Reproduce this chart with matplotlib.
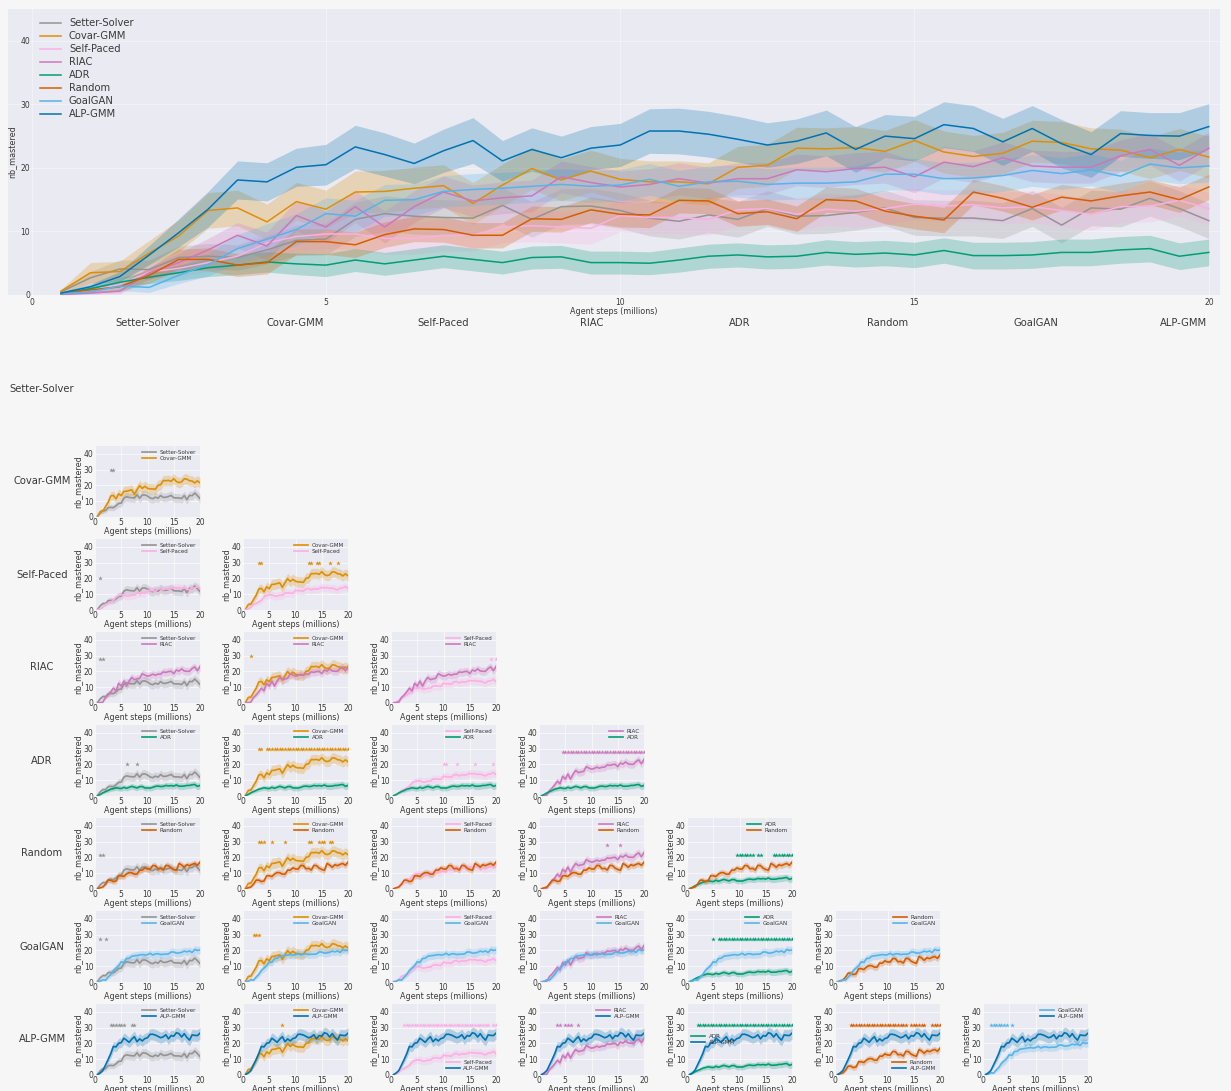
import numpy as np
import matplotlib.pyplot as plt

W, H = 1231, 1091

# x positions of the evaluations (millions of agent steps)
steps = np.arange(0.5, 20.01, 0.5)

names = ['Setter-Solver', 'Covar-GMM', 'Self-Paced', 'RIAC', 'ADR', 'Random', 'GoalGAN', 'ALP-GMM']
colors = ['#949494', '#de8f05', '#fbafe4', '#cc78bc', '#029e73', '#d55e00', '#56b4e9', '#0173b2']

# mean number of mastered tasks
setter_solver = [0.5, 2.7, 4.1, 4.0, 5.9, 6.1, 5.9, 7.1, 8.6, 8.8, 11.9, 12.8, 12.4, 12.2, 12.1, 14.1, 11.9, 13.9, 14.0, 13.3,
                 12.1, 11.6, 12.6, 11.9, 13.6, 12.4, 12.5, 13.0, 13.7, 12.2, 12.1, 12.1, 11.7, 13.6, 11.0, 13.7, 13.5, 15.2, 13.6, 11.7]
covar_gmm = [0.6, 3.5, 3.7, 6.6, 9.3, 13.3, 13.7, 11.5, 14.7, 13.5, 16.2, 16.3, 16.8, 17.2, 14.4, 17.3, 19.9, 18.1, 19.5, 18.2,
             17.8, 17.8, 17.5, 20.1, 20.4, 23.1, 23.0, 23.2, 22.6, 24.3, 22.5, 21.8, 22.3, 24.2, 24.0, 23.0, 22.8, 21.6, 22.9, 21.7]
self_paced = [0.2, 0.7, 1.7, 3.6, 4.2, 5.1, 6.1, 8.2, 9.2, 9.6, 9.6, 8.9, 8.9, 9.4, 9.4, 10.7, 10.9, 10.7, 10.5, 12.5,
              12.2, 12.2, 11.9, 13.4, 13.6, 12.7, 13.5, 13.2, 13.6, 14.3, 14.0, 14.2, 13.7, 13.9, 13.3, 12.7, 13.9, 14.0, 14.9, 13.6]
riac = [0.1, 0.3, 0.6, 3.5, 5.1, 7.1, 9.4, 7.7, 12.5, 10.7, 13.9, 10.7, 13.9, 16.2, 14.8, 15.3, 15.6, 18.6, 17.7, 17.0,
        17.4, 18.3, 17.6, 18.3, 18.3, 19.7, 19.4, 19.9, 20.1, 18.6, 20.9, 20.2, 21.6, 20.3, 20.1, 20.1, 21.9, 22.9, 20.4, 23.1]
adr = [0.2, 1.0, 2.0, 2.8, 3.5, 4.3, 4.7, 5.2, 4.9, 4.7, 5.5, 4.9, 5.5, 6.1, 5.6, 5.1, 5.9, 6.0, 5.1, 5.1,
       5.0, 5.5, 6.1, 6.3, 6.0, 6.1, 6.7, 6.4, 6.6, 6.3, 7.0, 6.2, 6.2, 6.3, 6.7, 6.7, 7.1, 7.3, 6.1, 6.7]
random_ = [0.2, 0.8, 1.3, 3.1, 5.6, 5.6, 4.7, 5.1, 8.4, 8.4, 7.9, 9.5, 10.4, 10.3, 9.4, 9.4, 12.0, 11.9, 13.4, 12.7,
           12.6, 14.9, 14.8, 12.8, 13.1, 12.0, 15.0, 14.8, 13.2, 12.4, 11.8, 16.2, 15.2, 13.8, 15.4, 14.8, 15.6, 16.2, 15.0, 17.0]
goalgan = [0.2, 0.5, 1.4, 1.2, 3.1, 4.8, 7.3, 8.8, 10.3, 12.8, 12.4, 14.9, 15.0, 16.3, 16.6, 16.8, 17.1, 17.4, 17.1, 17.3,
           18.2, 17.1, 17.8, 17.9, 17.4, 17.6, 17.6, 17.8, 19.0, 19.0, 18.3, 18.4, 18.8, 19.6, 19.1, 19.7, 18.7, 20.6, 20.0, 20.3]
alp_gmm = [0.3, 1.3, 2.9, 6.3, 9.8, 13.5, 18.1, 17.8, 20.1, 20.5, 23.3, 22.1, 20.7, 22.7, 24.3, 21.1, 22.9, 21.6, 23.1, 23.6,
           25.8, 25.8, 25.3, 24.5, 23.6, 24.2, 25.5, 22.9, 25.0, 24.6, 26.8, 26.2, 24.1, 26.2, 23.8, 22.1, 25.4, 25.1, 25.0, 26.5]

# half width of the shaded bands
setter_solver_sd = [0.3, 1.0, 1.4, 1.5, 1.8, 2.0, 2.0, 2.2, 2.4, 2.5, 2.7, 2.8, 2.8, 2.8, 2.8, 2.8, 2.8, 2.8, 2.8, 2.8,
                    2.8, 2.8, 2.8, 2.8, 2.8, 2.8, 2.8, 2.8, 2.8, 2.8, 2.8, 2.8, 2.8, 2.8, 2.8, 2.8, 2.8, 2.8, 2.8, 2.8]
covar_gmm_sd = [0.3, 1.6, 1.6, 2.0, 2.5, 2.8, 2.8, 2.8, 3.0, 3.0, 3.3, 3.3, 3.3, 3.3, 3.3, 3.3, 3.3, 3.3, 3.3, 3.3,
                3.3, 3.3, 3.3, 3.3, 3.3, 3.3, 3.3, 3.3, 3.3, 3.3, 3.3, 3.3, 3.3, 3.3, 3.3, 3.3, 3.3, 3.3, 3.3, 3.3]
self_paced_sd = [0.1, 0.3, 0.6, 1.0, 1.3, 1.5, 1.7, 2.0, 2.2, 2.3, 2.4, 2.5, 2.5, 2.5, 2.5, 2.5, 2.5, 2.5, 2.5, 2.5,
                 2.5, 2.5, 2.5, 2.5, 2.5, 2.5, 2.5, 2.5, 2.5, 2.5, 2.5, 2.5, 2.5, 2.5, 2.5, 2.5, 2.5, 2.5, 2.5, 2.5]
riac_sd = [0.1, 0.2, 0.4, 1.0, 1.5, 1.8, 2.0, 2.2, 2.4, 2.5, 2.5, 2.5, 2.5, 2.5, 2.5, 2.5, 2.5, 2.5, 2.5, 2.5,
           2.5, 2.5, 2.5, 2.5, 2.5, 2.5, 2.5, 2.5, 2.5, 2.5, 2.5, 2.5, 2.5, 2.5, 2.5, 2.5, 2.5, 2.5, 2.5, 2.5]
adr_sd = [0.1, 0.4, 0.7, 1.0, 1.2, 1.4, 1.5, 1.6, 1.7, 1.8, 1.8, 1.8, 1.8, 1.8, 1.8, 1.8, 1.8, 1.8, 1.8, 1.8,
          1.8, 1.9, 1.9, 1.9, 1.9, 1.9, 2.0, 2.0, 2.0, 2.0, 2.0, 2.1, 2.1, 2.1, 2.1, 2.1, 2.1, 2.1, 2.1, 2.1]
random_sd = [0.1, 0.4, 0.7, 1.2, 1.6, 1.8, 1.8, 1.8, 2.0, 2.0, 2.0, 2.0, 2.0, 2.0, 2.0, 2.0, 2.0, 2.0, 2.0, 2.0,
             2.0, 2.0, 2.0, 2.0, 2.0, 2.0, 2.0, 2.0, 2.0, 2.0, 2.0, 2.0, 2.0, 2.0, 2.0, 2.0, 2.0, 2.0, 2.0, 2.0]
goalgan_sd = [0.1, 0.3, 0.7, 0.8, 1.3, 1.8, 2.2, 2.4, 2.5, 2.5, 2.5, 2.5, 2.5, 2.5, 2.5, 2.5, 2.5, 2.5, 2.5, 2.5,
              2.5, 2.5, 2.5, 2.5, 2.5, 2.5, 2.5, 2.5, 2.5, 2.5, 2.5, 2.5, 2.5, 2.5, 2.5, 2.5, 2.5, 2.5, 2.5, 2.5]
alp_gmm_sd = [0.2, 0.4, 0.8, 1.5, 2.2, 2.8, 3.0, 3.0, 3.0, 3.2, 3.4, 3.4, 3.2, 3.4, 3.6, 3.2, 3.4, 3.4, 3.4, 3.4,
              3.5, 3.6, 3.6, 3.6, 3.5, 3.5, 3.6, 3.6, 3.4, 3.5, 3.6, 3.6, 3.7, 3.6, 3.8, 3.6, 3.6, 3.6, 3.7, 3.6]

means = [setter_solver, covar_gmm, self_paced, riac, adr, random_, goalgan, alp_gmm]
spreads = [setter_solver_sd, covar_gmm_sd, self_paced_sd, riac_sd, adr_sd, random_sd, goalgan_sd, alp_gmm_sd]


def span(a, b):
    return list(np.arange(a, b + 0.01, 0.5))


# significance stars: (row algo, column algo) -> (y level, x positions)
stars = {
    ('Covar-GMM', 'Setter-Solver'): (30, [3.0, 3.5]),
    ('Self-Paced', 'Setter-Solver'): (20, [1.0]),
    ('Self-Paced', 'Covar-GMM'): (30, [3.0, 3.5, 12.5, 13.0, 14.0, 14.5, 16.5, 18.0]),
    ('RIAC', 'Setter-Solver'): (28, [1.0, 1.5]),
    ('RIAC', 'Covar-GMM'): (30, [1.5]),
    ('RIAC', 'Self-Paced'): (28, [19.0, 20.0]),
    ('ADR', 'Setter-Solver'): (20, [6.0, 8.0]),
    ('ADR', 'Covar-GMM'): (30, [3.0, 3.5] + span(4.5, 20)),
    ('ADR', 'Self-Paced'): (20, [10.0, 10.5, 12.5, 16.0, 19.5]),
    ('ADR', 'RIAC'): (28, span(4.5, 20)),
    ('Random', 'Setter-Solver'): (21.5, [1.0, 1.5]),
    ('Random', 'Covar-GMM'): (30, [3.0, 3.5, 4.0, 5.5, 8.0, 12.5, 13.0, 14.5, 15.0, 15.5, 16.5, 17.0]),
    ('Random', 'RIAC'): (28, [13.0, 15.5]),
    ('Random', 'ADR'): (21.5, span(9.5, 12.5) + [13.5, 14.0] + span(16.5, 20)),
    ('GoalGAN', 'Setter-Solver'): (27, [1.0, 2.0]),
    ('GoalGAN', 'Covar-GMM'): (30, [2.0, 2.5, 3.0]),
    ('GoalGAN', 'ADR'): (27, [5.0] + span(6.0, 20)),
    ('ALP-GMM', 'Setter-Solver'): (32, span(3.0, 5.5) + [7.0, 7.5]),
    ('ALP-GMM', 'Covar-GMM'): (32, [7.5]),
    ('ALP-GMM', 'Self-Paced'): (32, span(2.5, 18.5) + [19.5, 20.0]),
    ('ALP-GMM', 'RIAC'): (32, [3.5, 4.0, 5.0, 5.5, 6.0, 7.5]),
    ('ALP-GMM', 'ADR'): (32, span(2.0, 20)),
    ('ALP-GMM', 'Random'): (32, span(3.0, 13.5) + span(14.5, 17.0) + span(18.5, 20)),
    ('ALP-GMM', 'GoalGAN'): (32, span(1.5, 4.5) + [5.5]),
}
legend_locs = {
    ('ALP-GMM', 'Self-Paced'): 'lower right',
    ('ALP-GMM', 'ADR'): 'center left',
    ('ALP-GMM', 'Random'): 'lower right',
}

BG = '#f6f6f6'
AX_BG = '#eaeaf2'
TXT = '#3a3a3a'


def px_rect(left, top, right, bottom):
    return [left / W, 1 - bottom / H, (right - left) / W, (bottom - top) / H]


def style_axes(a, grid_alpha):
    a.set_facecolor(AX_BG)
    a.grid(color='white', lw=0.7, alpha=grid_alpha)
    a.set_axisbelow(True)
    for sp in a.spines.values():
        sp.set_visible(False)
    a.tick_params(length=0, colors=TXT)


fig = plt.figure(figsize=(W / 100, H / 100), dpi=100, facecolor=BG)

####################
# Main comparison  #
####################
ax = fig.add_axes(px_rect(8, 9, 1220, 295))
style_axes(ax, 0.35)
for i, n in enumerate(names):
    m = np.array(means[i])
    s = np.array(spreads[i])
    ax.fill_between(steps, m - s, m + s, color=colors[i], alpha=0.25, lw=0)
    ax.plot(steps, m, color=colors[i], lw=1.1, label=n)
ax.set_xlim(-0.40, 20.19)
ax.set_ylim(0, 45)
ax.set_xticks([0, 5, 10, 15, 20])
ax.set_yticks([0, 10, 20, 30, 40])
ax.tick_params(labelsize=5.5)
ax.tick_params(axis='y', pad=-16)
ax.tick_params(axis='x', pad=2)
ax.set_xlabel('Agent steps (millions)', fontsize=5.8, labelpad=0, color=TXT)
fig.text(12 / W, 1 - 152 / H, 'nb_mastered', rotation=90, fontsize=5.8,
         color=TXT, ha='center', va='center')
ax.legend(loc='upper left', bbox_to_anchor=(0.023, 0.982), borderaxespad=0,
          frameon=False, fontsize=7.2, labelspacing=0.3, handlelength=2.1,
          handletextpad=0.8, labelcolor=TXT)

###########################
# Column and row headers  #
###########################
for j, n in enumerate(names):
    fig.text((147.5 + 148 * j) / W, 1 - 323 / H, n, fontsize=7.2, color=TXT,
             ha='center', va='center')
for i, n in enumerate(names):
    fig.text(42 / W, 1 - (388.5 + 93 * i) / H, n, fontsize=7.2, color=TXT,
             ha='center', va='center')

#########################
# Pairwise comparisons  #
#########################
for r in range(1, len(names)):
    for c in range(r):
        left = 95 + 148 * c
        top = 446 + 93 * (r - 1)
        sax = fig.add_axes(px_rect(left, top, left + 105, top + 71))
        style_axes(sax, 0.6)
        for k in (c, r):
            m = np.array(means[k])
            s = np.array(spreads[k])
            sax.fill_between(steps, m - s, m + s, color=colors[k], alpha=0.25, lw=0)
            sax.plot(steps, m, color=colors[k], lw=1.2, label=names[k])
        key = (names[r], names[c])
        if key in stars:
            yl, xs = stars[key]
            sax.plot(xs, [yl] * len(xs), ls='none', marker='*', ms=3.5,
                     color=colors[c], mew=0)
        sax.set_xlim(0, 20)
        sax.set_ylim(0, 45)
        sax.set_xticks([0, 5, 10, 15, 20])
        sax.set_yticks([0, 10, 20, 30, 40])
        sax.tick_params(labelsize=5.5, pad=1)
        sax.set_xlabel('Agent steps (millions)', fontsize=5.8, labelpad=0, color=TXT)
        sax.set_ylabel('nb_mastered', fontsize=5.8, labelpad=1, color=TXT)
        sax.legend(loc=legend_locs.get(key, 'upper right'), frameon=False,
                   fontsize=4.1, labelspacing=0.25, handlelength=2.5,
                   handletextpad=0.6, borderaxespad=0.3, labelcolor=TXT)

fig.savefig('out.png', dpi=100, facecolor=BG)
